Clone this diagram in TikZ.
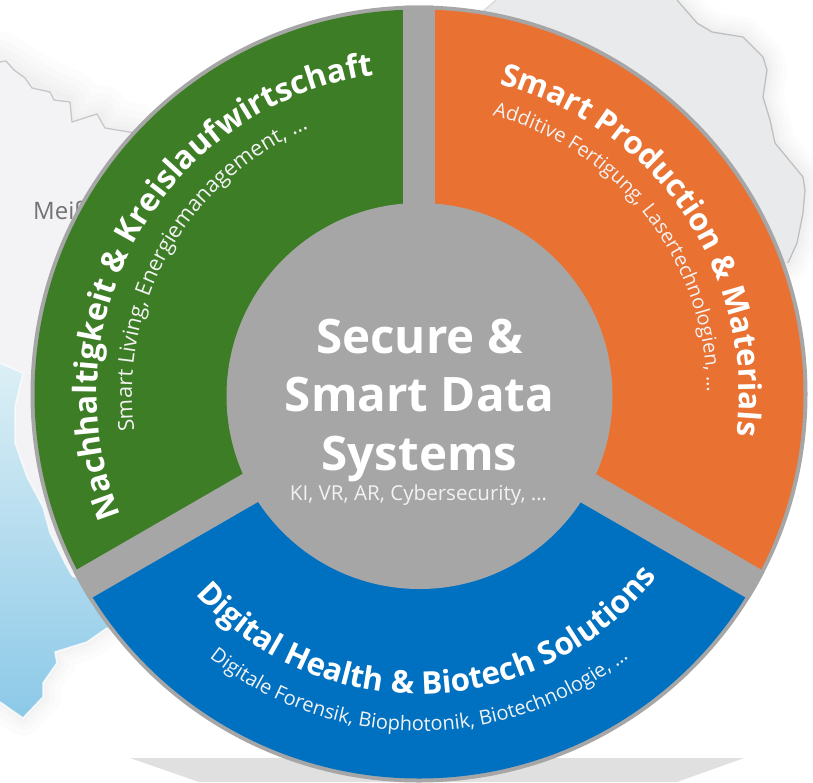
\documentclass[tikz,border=0pt]{standalone}
\usepackage{fontspec}
\setmainfont{Open Sans}
\usetikzlibrary{decorations.text}
\definecolor{rimgray}{HTML}{A6A6A6}
\definecolor{hubgreen}{HTML}{3C7D25}
\definecolor{huborange}{HTML}{E97132}
\definecolor{hubblue}{HTML}{0070C0}
\definecolor{mapgray}{HTML}{E9EAEC}
\definecolor{mapgrayb}{HTML}{F3F3F5}
\definecolor{mapbluetop}{HTML}{DCEFF5}
\definecolor{mapbluebot}{HTML}{8CC9E8}
\definecolor{subtext}{HTML}{F2F2F2}
\tikzset{
  spoke/.style={draw=rimgray,line width=32pt,line cap=butt},
  mapline/.style={line width=1.3pt,line join=round},
  glow/.style={draw=black,line width=#1,draw opacity=0.012,line join=round,line cap=round},
  hubtitle/.style={white,font=\bfseries\fontsize{47.5}{47.5}\selectfont,inner sep=0pt,anchor=base},
  hubsub/.style={subtext,font=\fontsize{20.6}{20.6}\selectfont,inner sep=0pt,anchor=base},
}
\newcommand{\TitleFmt}[1]{\color{white}\fontsize{#1}{#1}\selectfont\bfseries}
\newcommand{\SubFmt}[1]{\color{subtext}\fontsize{#1}{#1}\selectfont}
\begin{document}
\begin{tikzpicture}[x=1pt,y=1pt]
\useasboundingbox (0,0) rectangle (813,-782);
\fill[white] (0,0) rectangle (813,-782);
\coordinate (c) at (419,-394);
\coordinate (hub) at (419,-390.5);
% map: grey region, upper left
\foreach \w in {60pt,44pt,30pt,18pt,8pt}{
  \draw[glow=\w] (0,-62) -- (25,-78) -- (50,-92) -- (70,-100) -- (72,-122) -- (100,-115) -- (105,-128) -- (135,-133);
}
\fill[mapgrayb] (0,-62) -- (6,-61) -- (14,-70) -- (25,-78) -- (32,-88) -- (50,-92) -- (54,-100) -- (70,-102) -- (72,-122) -- (97,-114) -- (105,-128) -- (135,-133) -- (300,-133) -- (300,-400) -- (100,-600) -- (0,-600) -- cycle;
\draw[mapline,draw=black!22] (0,-62) -- (6,-61) -- (14,-70) -- (25,-78) -- (32,-88) -- (50,-92) -- (54,-100) -- (70,-102) -- (72,-122) -- (97,-114) -- (105,-128) -- (135,-133);
% map: grey region, upper right
\foreach \w in {40pt,30pt,22pt,14pt,8pt}{
  \draw[glow=\w] (677,0) -- (697,-23) -- (712,-32) -- (743,-37) -- (763,-57) -- (767,-70) -- (763,-97) -- (770,-120) -- (775,-143) -- (803,-177) -- (805,-190) -- (803,-213) -- (797,-243) -- (788,-263);
}
\fill[mapgray] (496,0) -- (677,0) -- (697,-23) -- (712,-32) -- (743,-37) -- (763,-57) -- (767,-70) -- (763,-97) -- (770,-120) -- (775,-143) -- (803,-177) -- (805,-190) -- (803,-213) -- (797,-243) -- (788,-263) -- (700,-300) -- (480,-100) -- (480,-14) -- cycle;
\draw[mapline,draw=black!25] (677,0) -- (697,-23) -- (712,-32) -- (743,-37) -- (763,-57) -- (767,-70) -- (763,-97) -- (770,-120) -- (775,-143) -- (803,-177) -- (805,-190) -- (803,-213) -- (797,-243) -- (788,-263);
\draw[mapline,draw=black!15] (496,0) -- (480,-14);
% map: blue region, left
\foreach \w in {36pt,24pt,14pt,7pt}{
  \draw[glow=\w] (107,-628) -- (87,-642) -- (55,-652) -- (57,-663) -- (43,-683) -- (43,-697) -- (23,-718) -- (0,-702);
}
\shade[bottom color=mapbluebot,top color=mapbluetop]
  (0,-363) -- (23,-373) -- (15,-407) -- (15,-443) -- (27,-477) -- (43,-507) -- (50,-533) -- (65,-563) -- (73,-577) -- (130,-600) -- (107,-628) -- (87,-642) -- (55,-652) -- (57,-663) -- (43,-683) -- (43,-697) -- (23,-718) -- (0,-702) -- cycle;
\draw[white,line width=1.5pt,line join=round,opacity=.7] (0,-363) -- (23,-373) -- (15,-407) -- (15,-443) -- (27,-477) -- (43,-507) -- (50,-533) -- (65,-563) -- (73,-577);
\draw[white,line width=1.5pt,line join=round,opacity=.8] (107,-628) -- (87,-642) -- (55,-652) -- (57,-663) -- (43,-683) -- (43,-697) -- (23,-718) -- (0,-702);
% Meissen label behind the disc
\node[inner sep=0pt,anchor=base west,text=black!55,font=\fontsize{24}{24}\selectfont] (place) at (33,-219) {Meißen};
% grey shadow wedge at the foot
\fill[black!12] (130,-758) -- (744,-758) -- (677,-782) -- (199,-782) -- cycle;
% the disc
\fill[rimgray] (c) circle[radius=388.5];
\begin{scope}
\clip (c) circle[radius=384.5];
\fill[hubgreen] (hub) -- ([shift={(90:600)}]hub) -- ([shift={(150:1200)}]hub) -- ([shift={(210:600)}]hub) -- cycle;
\fill[huborange] (hub) -- ([shift={(90:600)}]hub) -- ([shift={(30:1200)}]hub) -- ([shift={(-30:600)}]hub) -- cycle;
\fill[hubblue] (hub) -- ([shift={(210:600)}]hub) -- ([shift={(270:1200)}]hub) -- ([shift={(-30:600)}]hub) -- cycle;
\end{scope}
\coordinate (s1) at ([shift={(90:395)}]hub);
\coordinate (s2) at ([shift={(210:395)}]hub);
\coordinate (s3) at ([shift={(330:395)}]hub);
\begin{scope}
\clip (c) circle[radius=388.5];
\draw[spoke] (hub) -- (s1);
\draw[spoke] (hub) -- (s2);
\draw[spoke] (hub) -- (s3);
\end{scope}
\fill[rimgray] (419.5,-396) circle[radius=193];
% curved labels
\path[decorate,decoration={text along path,text align=center,text={|\TitleFmt{32}|Nachhaltigkeit {\&} Kreislaufwirtschaft}}]
  (c) ++(215:322) arc[start angle=215,end angle=85,radius=322];
\path[decorate,decoration={text along path,text align=center,text={|\SubFmt{21.7}|Smart Living, Energiemanagement, …}}]
  (c) ++(200:287) arc[start angle=200,end angle=100,radius=287];
\path[decorate,decoration={text along path,text align=center,text={|\TitleFmt{31.3}|Smart Production {\&} Materials}}]
  (c) ++(84:320) arc[start angle=84,end angle=-16,radius=320];
\path[decorate,decoration={text along path,text align=center,text={|\SubFmt{20}|Additive Fertigung, Lasertechnologien, …}}]
  (c) ++(84.3:288) arc[start angle=84.3,end angle=-8.7,radius=288];
\path[decorate,decoration={text along path,text align=center,text={|\TitleFmt{31.3}|Digital Health {\&} Biotech Solutions}}]
  (c) ++(217.2:300) arc[start angle=217.2,end angle=327.2,radius=300];
\path[decorate,decoration={text along path,text align=center,text={|\SubFmt{20}|Digitale Forensik, Biophotonik, Biotechnologie, …}}]
  (c) ++(222:337) arc[start angle=222,end angle=318,radius=337];
% centre
\node[hubtitle] (t1) at (419.5,-353) {Secure \&};
\node[hubtitle] (t2) at (419.5,-411) {Smart Data};
\node[hubtitle] (t3) at (419.5,-470) {Systems};
\node[hubsub] (t4) at (418.5,-500) {KI, VR, AR, Cybersecurity, …};
\end{tikzpicture}
\end{document}
